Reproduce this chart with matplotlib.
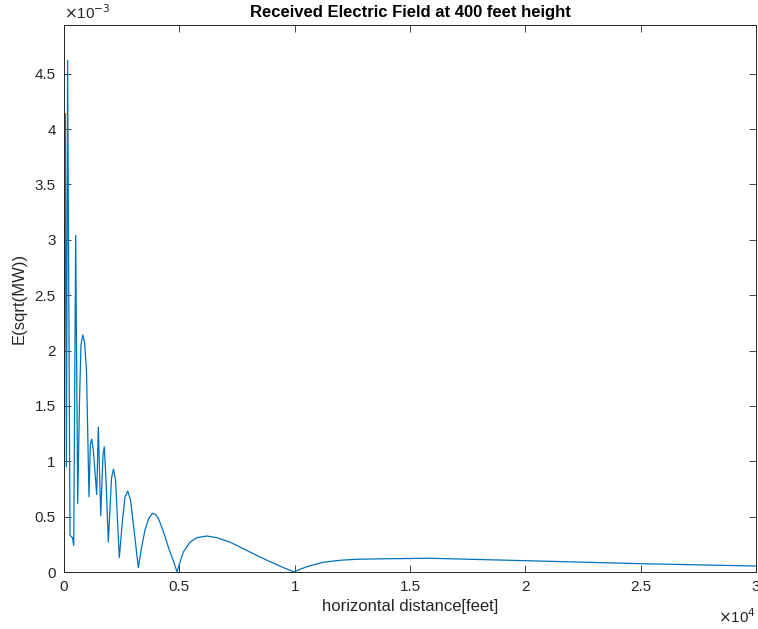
import numpy as np
import matplotlib
import matplotlib.pyplot as plt
from matplotlib.ticker import FuncFormatter

matplotlib.use("Agg")

# Curve vertices (distance in feet, field in units of 1e-3)
distance = [0, 56, 104, 156, 260, 369, 421, 507, 594, 672, 737, 815, 889, 976,
            1084, 1141, 1201, 1271, 1418, 1488, 1592, 1691, 1748, 1822, 1921,
            2060, 2147, 2234, 2398, 2537, 2646, 2763, 2884, 3036, 3222,
            3361, 3513, 3665, 3830, 3968, 4090, 4229, 4380, 4532, 4671, 4792, 4901,
            5031, 5174, 5465, 5755, 6189, 6623, 7199, 7776, 8357, 8934, 9511, 9802, 9945,
            10526, 11246, 11970, 12694, 14139, 15874, 20037, 25024, 30000]
field = [0.92, 4.14, 0.95, 4.62, 0.33, 0.31, 0.24, 3.04, 0.62, 1.55, 2.05, 2.14,
         2.08, 1.81, 0.68, 1.15, 1.20, 1.10, 0.70, 1.31, 0.51, 1.06, 1.13, 0.83,
         0.27, 0.85, 0.93, 0.83, 0.13, 0.47, 0.68, 0.73, 0.65, 0.38, 0.04,
         0.22, 0.38, 0.48, 0.53, 0.52, 0.485, 0.41, 0.32, 0.22, 0.14, 0.07, 0.0,
         0.09, 0.18, 0.27, 0.31, 0.325, 0.31, 0.27, 0.21, 0.15, 0.093, 0.04, 0.015, 0.0,
         0.048, 0.088, 0.106, 0.115, 0.12, 0.124, 0.102, 0.075, 0.054]

xTicks = [0, 5000, 10000, 15000, 20000, 25000, 30000]
yTicks = [0, 0.5e-3, 1e-3, 1.5e-3, 2e-3, 2.5e-3, 3e-3, 3.5e-3, 4e-3, 4.5e-3]

x = np.array(distance)
y = np.array(field) * 1e-3

plt.rcParams["font.family"] = ["Liberation Sans", "DejaVu Sans"]
axisColor = "#262626"

fig = plt.figure(figsize=(7.58, 6.29), dpi=100)
ax = fig.add_axes([64 / 758, 1 - 572 / 629, (756 - 64) / 758, (572 - 25) / 629])

ax.plot(x, y, color="#0072BD", linewidth=0.9)

ax.set_xlim(0, 30000)
ax.set_ylim(0, 4.94e-3)
ax.set_xticks(xTicks)
ax.set_yticks(yTicks)
ax.xaxis.set_major_formatter(FuncFormatter(lambda v, p: "%g" % (v / 1e4)))
ax.yaxis.set_major_formatter(FuncFormatter(lambda v, p: "%g" % round(v * 1e3, 3)))
ax.tick_params(direction="in", top=True, right=True, length=5, width=0.6,
               colors=axisColor, labelsize=11, pad=6)
for spine in ax.spines.values():
  spine.set_color(axisColor)
  spine.set_linewidth(0.7)

ax.set_title("Received Electric Field at 400 feet height", fontsize=12,
             fontweight="bold", pad=6)
ax.set_xlabel("horizontal distance[feet]", fontsize=12, color=axisColor, labelpad=3)
ax.set_ylabel("E(sqrt(MW))", fontsize=12, color=axisColor, labelpad=6)

# Exponent labels like MATLAB
ax.text(0.0, 1.005, r"$\times$10$^{-3}$", transform=ax.transAxes, fontsize=11,
        color=axisColor, ha="left", va="bottom")
ax.text(1.0, -0.065, r"$\times$10$^{4}$", transform=ax.transAxes, fontsize=11,
        color=axisColor, ha="right", va="top")

plt.savefig("out.png", dpi=100)
